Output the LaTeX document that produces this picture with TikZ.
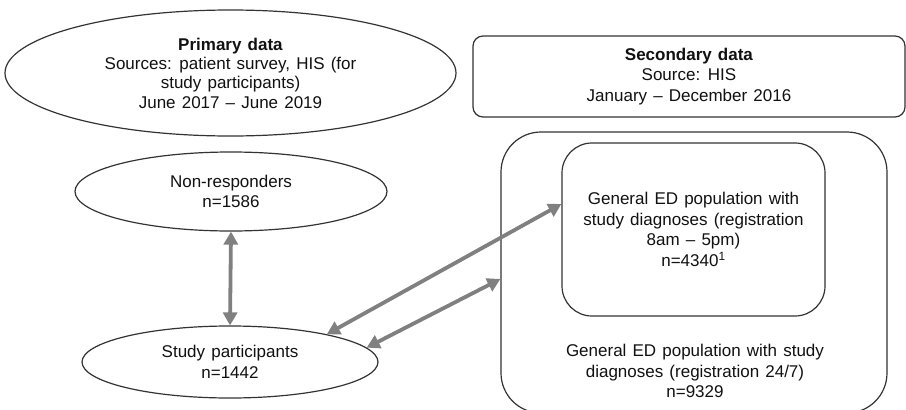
\documentclass[tikz,border=0pt]{standalone}
\usepackage{fontspec}
\setmainfont{Liberation Sans}[WordSpace=1.3]
\usetikzlibrary{shapes.geometric,arrows.meta}
\definecolor{arrowgray}{HTML}{808080}
\definecolor{linegray}{HTML}{333333}
\definecolor{txt}{HTML}{111111}
\begin{document}
\begin{tikzpicture}[x=1pt,y=-1pt,
  every node/.style={text=txt, align=center, inner sep=0pt,
    font=\fontsize{17}{20.8}\selectfont},
  oval/.style={draw=linegray, line width=1.2pt, ellipse},
  rbox/.style={draw=linegray, line width=1.2pt, rectangle},
  link/.style={draw=arrowgray, line width=3.8pt,
    {Triangle[length=13pt,width=14pt]}-{Triangle[length=13pt,width=14pt]}}
]
\clip (0,0) rectangle (906,410);
\fill[white] (0,0) rectangle (906,410);

\node[oval, minimum width=451pt, minimum height=126pt,
      font=\fontsize{17}{19.3}\selectfont] (primary) at (230.5,73)
  {\textbf{Primary data}\\Sources: patient survey, HIS (for\\study participants)\\June 2017 -- June 2019};

\node[oval, minimum width=312pt, minimum height=79pt] (nonresp) at (231,191.5)
  {Non-responders\\n=1586};

\node[oval, minimum width=296pt, minimum height=72pt] (study) at (230,362)
  {Study participants\\n=1442};

\node[rbox, rounded corners=10pt, minimum width=432pt, minimum height=81pt] (secondary) at (689,76.5)
  {\textbf{Secondary data}\\Source: HIS\\January -- December 2016};

\node[rbox, rounded corners=40pt, minimum width=386pt, minimum height=281pt] (outer) at (694,272.5) {};

\node[rbox, rounded corners=30pt, minimum width=263pt, minimum height=173pt] (inner) at (693.5,229.5)
  {General ED population with\\study diagnoses (registration\\8am -- 5pm)\\n=4340\textsuperscript{1}};

\node (outertext) at (695,371)
  {General ED population with study\\diagnoses (registration 24/7)\\n=9329};

\draw[link] (nonresp.south) -- (study.north);
\draw[link] (study.16) -- ([yshift=25.5pt]inner.west);
\draw[link] (study.6) -- ([yshift=-6.5pt]outer.west);
\end{tikzpicture}
\end{document}
